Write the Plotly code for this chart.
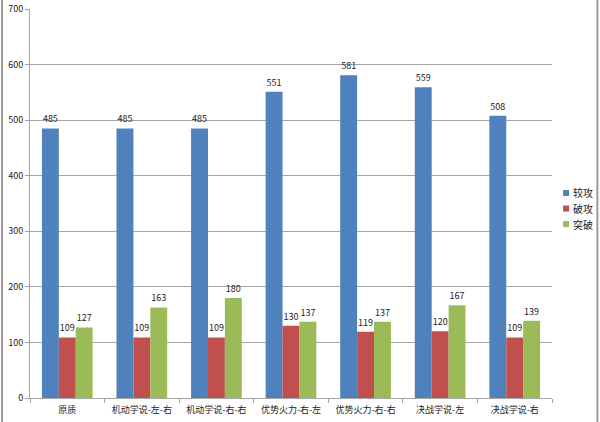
import plotly.graph_objects as go

categories = ["原质", "机动学说-左-右", "机动学说-右-右", "优势火力-右-左",
              "优势火力-右-右", "决战学说-左", "决战学说-右"]
series_names = ["较攻", "破攻", "突破"]
jiaogong = [485, 485, 485, 551, 581, 559, 508]
pogong = [109, 109, 109, 130, 119, 120, 109]
tupo = [127, 163, 180, 137, 137, 167, 139]
colors = ["#4F81BD", "#C0504D", "#9BBB59"]
y_ticks = [0, 100, 200, 300, 400, 500, 600, 700]

font_family = "Noto Sans CJK SC, Noto Sans, sans-serif"

fig = go.Figure()
for name, vals, c in zip(series_names, [jiaogong, pogong, tupo], colors):
    fig.add_trace(go.Bar(
        x=categories, y=vals, name=name, marker=dict(color=c, line=dict(width=0)),
        text=[str(v) for v in vals], textposition="outside",
        textfont=dict(size=9, color="#222222", family=font_family),
        cliponaxis=False, showlegend=False,
    ))

fig.update_layout(
    width=600, height=422,
    margin=dict(l=30, r=48, t=9, b=24, autoexpand=False),
    paper_bgcolor="white", plot_bgcolor="white",
    barmode="group", bargap=0.32, bargroupgap=0,
    font=dict(family=font_family, size=10, color="#222222"),
    showlegend=False,
)
fig.update_xaxes(showline=True, linecolor="#A6A6A6", linewidth=1,
                 ticks="outside", tickson="boundaries", ticklen=4, tickcolor="#A6A6A6",
                 tickangle=0, ticklabelstandoff=3,
                 tickfont=dict(size=9, family=font_family, color="#222222"),
                 showgrid=False)
fig.update_yaxes(range=[0, 700], tickvals=y_ticks, showline=True, linecolor="#A6A6A6",
                 linewidth=1, ticks="outside", ticklen=4, tickcolor="#A6A6A6",
                 gridcolor="#A6A6A6", gridwidth=1, zeroline=False,
                 tickfont=dict(size=9, family=font_family, color="#222222"))

# custom legend (square marker + label), matching the reference placement
px_w, px_h = 522.0, 389.0
for i, (name, c) in enumerate(zip(series_names, colors)):
    yc = 0.527 - i * 0.04
    fig.add_shape(type="rect", xref="paper", yref="paper",
                  x0=1.027 - 3 / px_w, x1=1.027 + 3 / px_w,
                  y0=yc - 3 / px_h, y1=yc + 3 / px_h,
                  fillcolor=c, line=dict(width=0))
    fig.add_annotation(xref="paper", yref="paper", x=1.027 + 5 / px_w, y=yc,
                       xanchor="left", yanchor="middle", text=name, showarrow=False,
                       font=dict(size=10, family=font_family, color="#222222"))

# frame lines of the chart image
fig.add_shape(type="line", xref="paper", yref="paper", x0=-0.0536, x1=-0.0536,
              y0=-0.07, y1=1.03, line=dict(color="#9A9A9A", width=2))
fig.add_shape(type="line", xref="paper", yref="paper", x0=1.087, x1=1.087,
              y0=-0.07, y1=1.03, line=dict(color="#9A9A9A", width=2))

fig.write_html("out.html", config={"displayModeBar": False},
               post_script="document.body.style.margin='0';")
